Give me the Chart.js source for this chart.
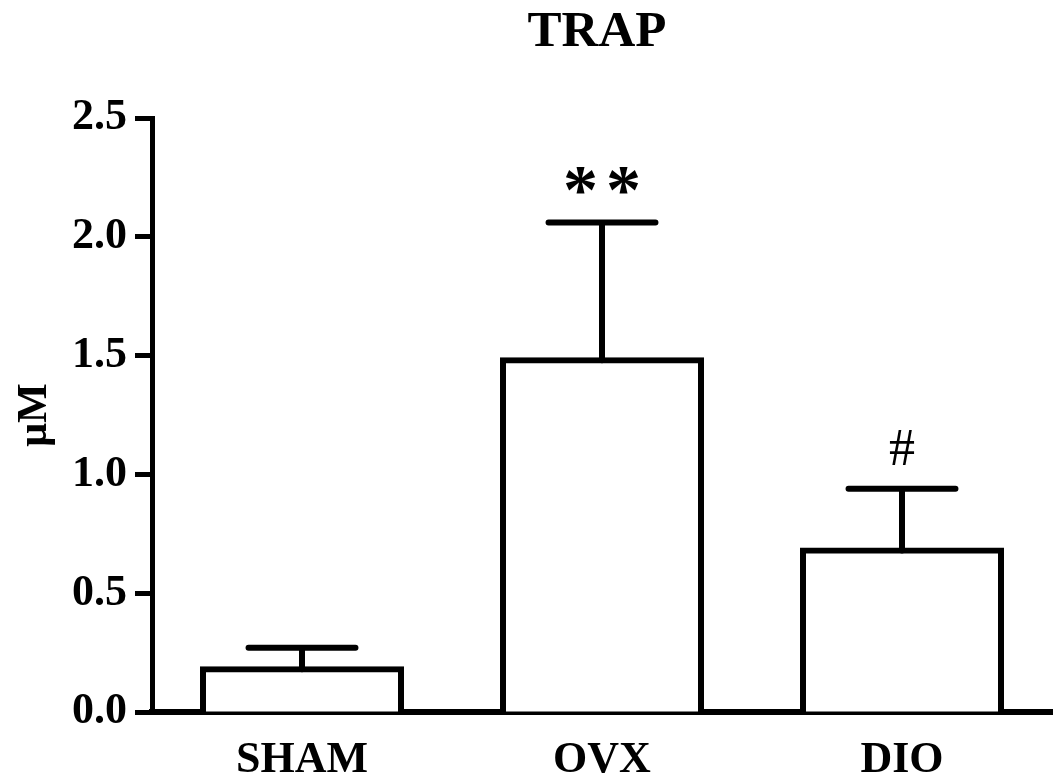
<!DOCTYPE html>
<html>
<head>
<meta charset="utf-8">
<script src="https://cdn.jsdelivr.net/npm/chart.js@4.4.1/dist/chart.umd.min.js"></script>
<style>
  html, body { margin: 0; padding: 0; background: #fff; }
  #wrap { width: 1055px; height: 783px; }
</style>
</head>
<body>
<div id="wrap"><canvas id="trapChart" width="1055" height="783"></canvas></div>
<script>
    // values
    const groups = ['SHAM', 'OVX', 'DIO'];
    const means = [0.18, 1.48, 0.68];
    const errors = [0.09, 0.58, 0.26];
    const marks = ['', '**', '#'];
    const yTicks = [0, 0.5, 1.0, 1.5, 2.0, 2.5];

    const serif = "'Liberation Serif', 'Times New Roman', serif";

    // title centred over the plot area, not the whole canvas
    const plotTitle = {
        id: 'plotTitle',
        afterDraw(chart) {
            const { ctx, chartArea } = chart;
            ctx.save();
            ctx.fillStyle = '#000';
            ctx.font = 'bold 51px ' + serif;
            ctx.textAlign = 'center';
            ctx.textBaseline = 'alphabetic';
            ctx.fillText('TRAP', (chartArea.left + chartArea.right) / 2 - 5, 46);
            ctx.restore();
        }
    };

    // SD whiskers plus significance marks
    const errorBars = {
        id: 'errorBars',
        afterDatasetsDraw(chart) {
            const { ctx } = chart;
            const y = chart.scales.y;
            const bars = chart.getDatasetMeta(0).data;
            ctx.save();
            ctx.strokeStyle = '#000';
            ctx.fillStyle = '#000';
            ctx.lineWidth = 6;
            ctx.lineCap = 'round';
            bars.forEach((bar, i) => {
                const top = y.getPixelForValue(means[i] + errors[i]);
                const base = y.getPixelForValue(means[i]);
                const half = bar.width * 0.27;
                ctx.beginPath();
                ctx.moveTo(bar.x, base);
                ctx.lineTo(bar.x, top);
                ctx.moveTo(bar.x - half, top);
                ctx.lineTo(bar.x + half, top);
                ctx.stroke();

                ctx.textAlign = 'center';
                ctx.textBaseline = 'alphabetic';
                if (marks[i] === '#') {
                    ctx.font = '52px ' + serif;
                    ctx.fillText('#', bar.x, top - 24);
                } else if (marks[i]) {
                    // asterisks drawn one by one, they sit wider apart in the figure
                    ctx.font = 'bold 70px ' + serif;
                    const n = marks[i].length;
                    for (let k = 0; k < n; k++) {
                        ctx.fillText('*', bar.x + (k - (n - 1) / 2) * 43, top - 10);
                    }
                }
            });
            ctx.restore();
        }
    };

    new Chart(document.getElementById('trapChart'), {
        type: 'bar',
        data: {
            labels: groups,
            datasets: [{
                data: means,
                backgroundColor: '#ffffff',
                borderColor: '#000000',
                borderWidth: 6,
                borderSkipped: 'bottom',
                inflateAmount: 3,
                categoryPercentage: 1.0,
                barPercentage: 0.66
            }]
        },
        options: {
            responsive: false,
            animation: false,
            devicePixelRatio: 1,
            layout: { padding: { top: 118, right: 3, left: 0, bottom: 0 } },
            plugins: {
                legend: { display: false },
                tooltip: { enabled: false },
                title: { display: false }
            },
            scales: {
                x: {
                    grid: { display: false, drawTicks: false },
                    border: { display: true, color: '#000', width: 6 },
                    ticks: {
                        color: '#000',
                        padding: 22,
                        font: { family: serif, size: 44, weight: 'bold' }
                    },
                    afterFit(scale) { scale.height = 71; }
                },
                y: {
                    min: 0,
                    max: 2.5,
                    afterBuildTicks(scale) {
                        scale.ticks = yTicks.map(v => ({ value: v }));
                    },
                    grid: {
                        display: true,
                        drawOnChartArea: false,
                        drawTicks: true,
                        tickLength: 17,
                        tickWidth: 5,
                        tickColor: '#000'
                    },
                    border: { display: true, color: '#000', width: 5 },
                    ticks: {
                        color: '#000',
                        padding: 8,
                        font: { family: serif, size: 44, weight: 'bold' },
                        callback: v => Number(v).toFixed(1)
                    },
                    title: {
                        display: true,
                        text: 'μM',
                        color: '#000',
                        padding: { top: 10, bottom: 0 },
                        font: { family: serif, size: 42, weight: 'bold' }
                    },
                    afterFit(scale) { scale.width = 152; }
                }
            }
        },
        plugins: [plotTitle, errorBars]
    });
</script>
</body>
</html>
